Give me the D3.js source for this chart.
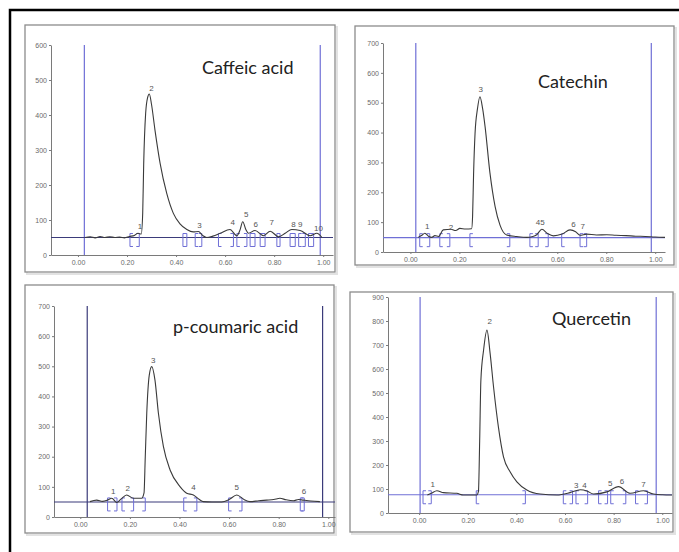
<!DOCTYPE html>
<html>
<head>
<meta charset="utf-8">
<script src="https://cdn.jsdelivr.net/npm/d3@7"></script>
<style>
  body { margin: 0; background: #fff; }
  svg { display: block; }
</style>
</head>
<body>
<div id="container"></div>
<script>
// x axis ticks shared by all four chromatograms
const xTicks = [0, 0.2, 0.4, 0.6, 0.8, 1.0];
const xTickLabels = ["0.00", "0.20", "0.40", "0.60", "0.80", "1.00"];

// Caffeic acid
const caffeicTrace = [[0.029,50],[0.05,52],[0.07,49],[0.09,53],[0.11,50],[0.13,52],[0.15,50],[0.17,51],[0.19,49],[0.21,53],[0.23,56],[0.245,62],[0.258,60],[0.264,120],[0.268,260],[0.276,405],[0.284,450],[0.291,460],[0.3,430],[0.314,357],[0.335,262],[0.362,176],[0.389,119],[0.416,89],[0.444,73],[0.47,66],[0.491,67],[0.51,55],[0.525,50],[0.55,54],[0.58,62],[0.62,73],[0.648,55],[0.66,70],[0.672,95],[0.685,72],[0.695,62],[0.722,70],[0.757,55],[0.784,68],[0.818,52],[0.845,62],[0.872,73],[0.906,70],[0.947,55],[0.974,62],[0.995,50]];
const caffeicPeaks = [[0.253,81,"1"],[0.30,476,"2"],[0.495,86,"3"],[0.631,95,"4"],[0.686,116,"5"],[0.725,88,"6"],[0.79,95,"7"],[0.879,88,"8"],[0.906,88,"9"],[0.981,78,"10"]];
const caffeicMarks = [[0.212,"s"],[0.25,"e"],[0.428,"s"],[0.444,"e"],[0.478,"s"],[0.505,"e"],[0.573,"s"],[0.634,"e"],[0.648,"s"],[0.689,"e"],[0.702,"s"],[0.722,"e"],[0.743,"s"],[0.763,"e"],[0.811,"s"],[0.824,"e"],[0.865,"s"],[0.886,"e"],[0.9,"s"],[0.927,"e"],[0.94,"s"],[0.961,"e"]];
const caffeicYTicks = [0, 100, 200, 300, 400, 500, 600];

// Catechin
const catechinTrace = [[0.032,49],[0.045,55],[0.059,63],[0.075,52],[0.087,49],[0.1,55],[0.115,52],[0.134,74],[0.166,76],[0.185,72],[0.202,79],[0.225,77],[0.25,78],[0.254,120],[0.258,260],[0.264,397],[0.274,480],[0.284,520],[0.295,480],[0.305,420],[0.325,264],[0.346,152],[0.366,90],[0.393,57],[0.434,52],[0.475,49],[0.5,52],[0.516,58],[0.537,76],[0.56,62],[0.584,54],[0.62,60],[0.652,74],[0.675,68],[0.693,56],[0.72,60],[0.76,57],[0.802,58],[0.84,56],[0.88,55],[0.92,53],[0.96,52],[1.0,50],[1.04,49]];
const catechinPeaks = [[0.069,85,"1"],[0.166,82,"2"],[0.287,545,"3"],[0.53,100,"45"],[0.666,94,"6"],[0.704,85,"7"]];
const catechinMarks = [[0.038,"s"],[0.079,"e"],[0.12,"s"],[0.161,"e"],[0.243,"s"],[0.406,"e"],[0.488,"s"],[0.522,"e"],[0.563,"e"],[0.618,"s"],[0.693,"s"],[0.72,"e"]];
const catechinYTicks = [0, 100, 200, 300, 400, 500, 600, 700];

// p-coumaric acid
const coumaricTrace = [[0.039,51],[0.066,56],[0.09,52],[0.11,56],[0.127,62],[0.147,48],[0.165,60],[0.187,73],[0.214,62],[0.247,62],[0.257,80],[0.262,200],[0.268,344],[0.278,470],[0.288,499],[0.301,455],[0.315,344],[0.335,234],[0.362,156],[0.402,101],[0.429,79],[0.456,73],[0.48,58],[0.496,51],[0.53,50],[0.57,50],[0.6,58],[0.631,73],[0.66,58],[0.684,51],[0.72,54],[0.751,56],[0.78,58],[0.805,62],[0.83,57],[0.859,54],[0.88,58],[0.899,56],[0.93,53],[0.966,51]];
const coumaricPeaks = [[0.133,87,"1"],[0.191,95,"2"],[0.294,521,"3"],[0.456,99,"4"],[0.631,99,"5"],[0.902,84,"6"]];
const coumaricMarks = [[0.11,"s"],[0.148,"e"],[0.168,"s"],[0.215,"e"],[0.262,"e"],[0.417,"s"],[0.47,"e"],[0.598,"s"],[0.652,"e"],[0.887,"s"],[0.903,"e"]];
const coumaricYTicks = [0, 100, 200, 300, 400, 500, 600, 700];

// Quercetin
const quercetinTrace = [[0.034,75],[0.05,82],[0.073,93],[0.1,85],[0.155,82],[0.182,75],[0.237,75],[0.244,90],[0.249,300],[0.254,553],[0.265,678],[0.279,762],[0.292,665],[0.306,526],[0.326,359],[0.347,234],[0.374,172],[0.402,130],[0.443,96],[0.498,79],[0.567,75],[0.621,85],[0.663,97],[0.69,92],[0.717,79],[0.772,88],[0.82,110],[0.868,82],[0.923,93],[0.964,79],[1.0,76],[1.04,75]];
const quercetinPeaks = [[0.056,121,"1"],[0.29,800,"2"],[0.646,117,"3"],[0.68,117,"4"],[0.786,126,"5"],[0.834,133,"6"],[0.923,121,"7"]];
const quercetinMarks = [[0.016,"s"],[0.05,"e"],[0.235,"s"],[0.437,"e"],[0.593,"s"],[0.631,"e"],[0.645,"s"],[0.693,"e"],[0.738,"s"],[0.775,"e"],[0.788,"s"],[0.85,"e"],[0.89,"s"],[0.939,"e"]];
const quercetinYTicks = [0, 100, 200, 300, 400, 500, 600, 700, 800, 900];

const blue = "#6f6fd6";
const navy = "#3b3b7a";

const panels = [
  { title: "Caffeic acid", trace: caffeicTrace, peaks: caffeicPeaks, marks: caffeicMarks, yTicks: caffeicYTicks,
    box: [25, 25, 335, 272], xDom: [-0.11, 1.04], xRange: [51, 333], yRange: [255, 45],
    titlePos: [202, 74], vLines: [0.026, 0.988], vColor: blue, base: 50, baseColor: navy },
  { title: "Catechin", trace: catechinTrace, peaks: catechinPeaks, marks: catechinMarks, yTicks: catechinYTicks,
    box: [355, 26, 674, 265], xDom: [-0.112, 1.04], xRange: [383, 665], yRange: [252, 43],
    titlePos: [538, 88], vLines: [0.022, 0.984], vColor: blue, base: 48, baseColor: blue },
  { title: "p-coumaric acid", trace: coumaricTrace, peaks: coumaricPeaks, marks: coumaricMarks, yTicks: coumaricYTicks,
    box: [25, 285, 334, 533], xDom: [-0.106, 1.027], xRange: [54, 335], yRange: [517, 306],
    titlePos: [173, 333], vLines: [0.028, 0.977], vColor: navy, base: 50, baseColor: navy },
  { title: "Quercetin", trace: quercetinTrace, peaks: quercetinPeaks, marks: quercetinMarks, yTicks: quercetinYTicks,
    box: [350, 292, 673, 532], xDom: [-0.128, 1.04], xRange: [388, 672], yRange: [513, 297],
    titlePos: [552, 325], vLines: [0.004, 0.975], vColor: blue, base: 76, baseColor: blue }
];

const svg = d3.select("#container").append("svg")
  .attr("width", 679)
  .attr("height", 552);

// outer frame (only top and left edges fall inside the picture)
svg.append("path")
  .attr("d", "M10,552 L10,10 L679,10")
  .attr("fill", "none")
  .attr("stroke", "#000")
  .attr("stroke-width", 2.5);

panels.forEach(p => {
  const g = svg.append("g");
  const [bx0, by0, bx1, by1] = p.box;

  // soft shadow + panel border
  g.append("rect")
    .attr("x", bx0 + 2).attr("y", by0 + 2)
    .attr("width", bx1 - bx0).attr("height", by1 - by0)
    .attr("fill", "none").attr("stroke", "#e2e2e2").attr("stroke-width", 2);
  g.append("rect")
    .attr("x", bx0).attr("y", by0)
    .attr("width", bx1 - bx0).attr("height", by1 - by0)
    .attr("fill", "#fff").attr("stroke", "#8c8c8c").attr("stroke-width", 1.3);

  const yMax = d3.max(p.yTicks);
  const x = d3.scaleLinear().domain(p.xDom).range(p.xRange);
  const y = d3.scaleLinear().domain([0, yMax]).range(p.yRange);

  // axes
  const yAxis = g.append("g")
    .attr("transform", `translate(${p.xRange[0]},0)`)
    .call(d3.axisLeft(y).tickValues(p.yTicks).tickSize(2).tickPadding(2).tickSizeOuter(0));
  const xAxis = g.append("g")
    .attr("transform", `translate(0,${p.yRange[0]})`)
    .call(d3.axisBottom(x).tickValues(xTicks).tickFormat((d, i) => xTickLabels[i]).tickSize(2).tickPadding(3).tickSizeOuter(0));
  [yAxis, xAxis].forEach(a => {
    a.select(".domain").attr("stroke", "#7a7a7a");
    a.selectAll(".tick line").attr("stroke", "#7a7a7a");
    a.selectAll(".tick text")
      .attr("fill", "#6a6a6a")
      .attr("font-family", "Liberation Sans, Arial, sans-serif")
      .attr("font-size", 7);
  });

  // integration window lines
  g.selectAll(".vline")
    .data(p.vLines)
    .enter().append("line")
    .attr("x1", d => x(d)).attr("x2", d => x(d))
    .attr("y1", y(yMax)).attr("y2", y(0))
    .attr("stroke", p.vColor).attr("stroke-width", 1.2);

  // baseline
  g.append("line")
    .attr("x1", x(p.xDom[0])).attr("x2", x(p.xDom[1]))
    .attr("y1", y(p.base)).attr("y2", y(p.base))
    .attr("stroke", p.baseColor).attr("stroke-width", 1.1);

  // peak start/end markers
  g.selectAll(".mark")
    .data(p.marks)
    .enter().append("path")
    .attr("d", d => {
      const px = x(d[0]), by = y(p.base);
      const dir = d[1] === "s" ? 3 : -3;
      return `M${px + dir},${by - 4} L${px},${by - 4} L${px},${by + 9} L${px + dir},${by + 9}`;
    })
    .attr("fill", "none").attr("stroke", blue).attr("stroke-width", 1);

  // chromatogram trace
  g.append("path")
    .datum(p.trace)
    .attr("d", d3.line().x(d => x(d[0])).y(d => y(d[1])).curve(d3.curveMonotoneX))
    .attr("fill", "none").attr("stroke", "#3a3a3a").attr("stroke-width", 1.1);

  // peak numbers
  g.selectAll(".peak")
    .data(p.peaks)
    .enter().append("text")
    .attr("x", d => x(d[0]))
    .attr("y", d => y(d[1]))
    .attr("dy", "0.35em")
    .attr("text-anchor", "middle")
    .attr("font-family", "Liberation Sans, Arial, sans-serif")
    .attr("font-size", 8)
    .attr("fill", "#555")
    .text(d => d[2]);

  // compound name
  g.append("text")
    .attr("x", p.titlePos[0]).attr("y", p.titlePos[1])
    .attr("font-family", "Lato, sans-serif")
    .attr("font-size", 18)
    .attr("fill", "#222")
    .text(p.title);
});
</script>
</body>
</html>
